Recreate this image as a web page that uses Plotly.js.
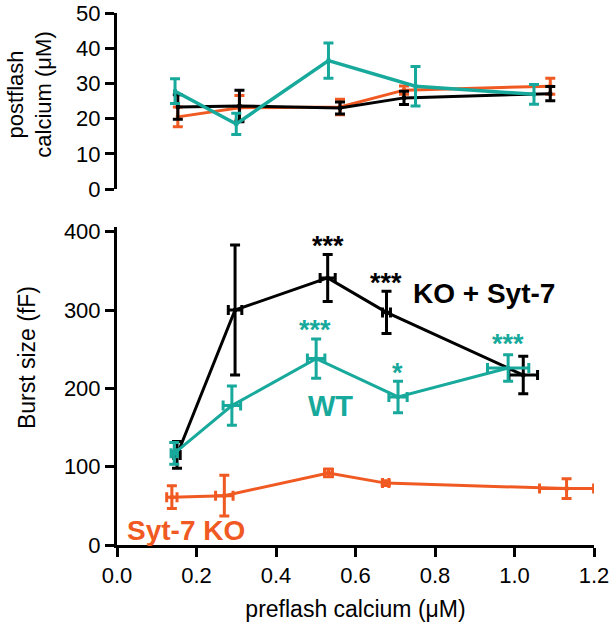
<!DOCTYPE html>
<html>
<head>
<meta charset="utf-8">
<script src="https://cdn.plot.ly/plotly-3.0.1.min.js"></script>
<style>
  html, body { margin: 0; padding: 0; background: #fff; }
  #chart { width: 616px; height: 624px; }
</style>
</head>
<body>
<div id="chart"></div>
<script>
  // colours
  const TEAL = '#17a99b';
  const ORANGE = '#f05a22';
  const BLACK = '#000000';
  const FONT = 'Liberation Sans, Arial, Helvetica, sans-serif';

  // bottom panel: burst size (fF) vs preflash calcium (uM)
  const wtX = [0.144, 0.289, 0.501, 0.707, 0.984];
  const wtY = [117, 178, 238, 189, 226];
  const wtYerr = [14, 25, 25, 20, 17];
  const wtXerr = [0.008, 0.022, 0.022, 0.023, 0.052];

  const rescueX = [0.151, 0.297, 0.530, 0.678, 1.022];
  const rescueY = [115, 300, 341, 297, 217];
  const rescueYerr = [17, 83, 30, 27, 24];
  const rescueXerr = [0.008, 0.017, 0.019, 0.010, 0.036];

  const koX = [0.138, 0.270, 0.532, 0.676, 1.131];
  const koY = [61, 63, 92, 79, 72];
  const koYerr = [14.5, 26, 5, 3, 12.5];
  const koXerr = [0.013, 0.022, 0.010, 0.008, 0.068];

  // top panel: postflash calcium (uM)
  const topWtX = [0.146, 0.300, 0.532, 0.751, 1.049];
  const topWtY = [27.8, 18.5, 36.5, 29.2, 26.9];
  const topWtErr = [3.5, 3, 5, 5.6, 2.8];

  const topRescueX = [0.153, 0.308, 0.561, 0.722, 1.090];
  const topRescueY = [23.3, 23.6, 23.0, 25.9, 27.1];
  const topRescueErr = [3.5, 4.5, 1.7, 1.9, 2];

  const topKoX = [0.153, 0.308, 0.561, 0.722, 1.090];
  const topKoY = [20.5, 23.1, 23.3, 28.1, 29.2];
  const topKoErr = [2.8, 3.5, 2.2, 1.2, 2.3];

  function series(x, y, ey, ex, color, yaxis, lw) {
    const t = {
      x, y, type: 'scatter', mode: 'lines+markers', yaxis,
      line: { color, width: lw },
      marker: { color, size: 4, symbol: 'square' },
      error_y: { type: 'data', array: ey, visible: true, color, thickness: 3, width: 5 },
      showlegend: false, hoverinfo: 'skip'
    };
    if (ex) t.error_x = { type: 'data', array: ex, visible: true, color, thickness: 3, width: 5 };
    return t;
  }

  const data = [
    series(topKoX, topKoY, topKoErr, null, ORANGE, 'y2', 3),
    series(topRescueX, topRescueY, topRescueErr, null, BLACK, 'y2', 3),
    series(topWtX, topWtY, topWtErr, null, TEAL, 'y2', 3.5),
    series(koX, koY, koYerr, koXerr, ORANGE, 'y', 3),
    series(rescueX, rescueY, rescueYerr, rescueXerr, BLACK, 'y', 3),
    series(wtX, wtY, wtYerr, wtXerr, TEAL, 'y', 3)
  ];

  const axisCommon = {
    showline: true, linecolor: '#000', linewidth: 3,
    ticks: 'outside', ticklen: 9, tickwidth: 3, tickcolor: '#000',
    showgrid: false, zeroline: false, ticklabeloverflow: 'allow',
    tickfont: { family: FONT, size: 22, color: '#000' }
  };

  function label(text, x, y, color, size) {
    return { text, x, y, xref: 'x', yref: 'y', showarrow: false,
      font: { family: FONT, size, color }, xanchor: 'center', yanchor: 'middle' };
  }

  const annotations = [
    label('<b>***</b>', 0.530, 382, BLACK, 27),
    label('<b>***</b>', 0.677, 335, BLACK, 27),
    label('<b>KO + Syt-7</b>', 0.923, 321, BLACK, 28),
    label('<b>***</b>', 0.498, 275, TEAL, 27),
    label('<b>*</b>', 0.706, 219, TEAL, 27),
    label('<b>***</b>', 0.984, 257, TEAL, 27),
    label('<b>WT</b>', 0.536, 177, TEAL, 29),
    label('<b>Syt-7 KO</b>', 0.174, 19, ORANGE, 28),
    { text: 'Burst size (fF)', xref: 'paper', yref: 'paper', x: -0.19, y: 0.352,
      textangle: -90, showarrow: false, xanchor: 'center', yanchor: 'middle',
      font: { family: FONT, size: 23, color: '#000' } },
    { text: 'postflash<br>calcium (μM)', xref: 'paper', yref: 'paper', x: -0.183, y: 0.846,
      textangle: -90, showarrow: false, xanchor: 'center', yanchor: 'middle',
      font: { family: FONT, size: 22, color: '#000' } }
  ];

  const layout = {
    width: 616, height: 624,
    paper_bgcolor: '#fff', plot_bgcolor: '#fff',
    margin: { l: 117, r: 22, t: 13, b: 79 },
    font: { family: FONT, color: '#000' },
    showlegend: false,
    xaxis: {
      ...axisCommon, range: [0, 1.2], tickvals: [0, 0.2, 0.4, 0.6, 0.8, 1.0, 1.2],
      ticktext: ['0.0', '0.2', '0.4', '0.6', '0.8', '1.0', '1.2'], anchor: 'y',
      title: { text: 'preflash calcium (μM)', font: { family: FONT, size: 23, color: '#000' }, standoff: 14 }
    },
    yaxis: {
      ...axisCommon, domain: [0, 0.5977], range: [0, 406], tickvals: [0, 100, 200, 300, 400], anchor: 'x'
    },
    yaxis2: {
      ...axisCommon, domain: [0.669, 1], range: [0, 50], tickvals: [0, 10, 20, 30, 40, 50], anchor: 'x'
    },
    annotations
  };

  Plotly.newPlot('chart', data, layout, { staticPlot: true, displayModeBar: false });
</script>
</body>
</html>
